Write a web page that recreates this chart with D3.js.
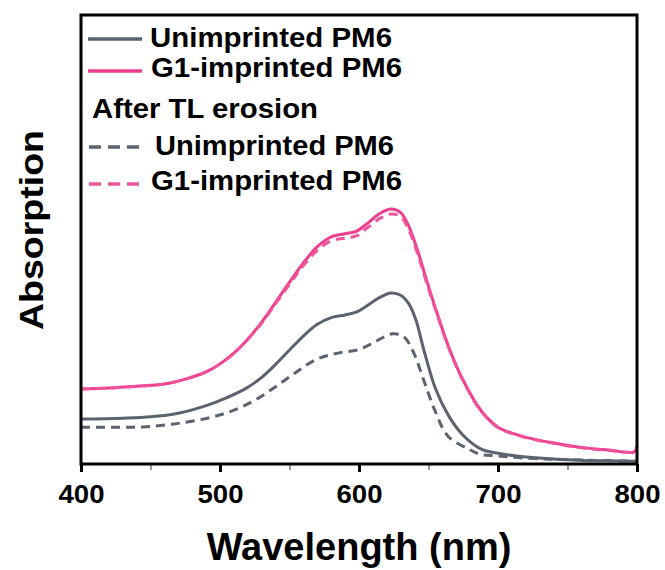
<!DOCTYPE html>
<html>
<head>
<meta charset="utf-8">
<script src="https://cdn.jsdelivr.net/npm/d3@7"></script>
<style>
  body { margin: 0; background: #fff; }
  text { font-family: Arial, "Liberation Sans", sans-serif; font-weight: bold; fill: #000; }
</style>
</head>
<body>
<div id="chart"></div>
<script>
const w = 665;
const h = 570;
const margin = { left: 81, right: 28, top: 15, bottom: 106 };

// wavelength (nm) and normalised absorption
const pinkWl = [400, 420, 440, 460, 475, 490, 500, 510, 520, 530, 540, 550, 560, 570, 580, 590, 598, 606, 615, 623, 630, 636, 642, 648, 655, 664, 674, 688, 700, 712, 725, 740, 760, 780, 798, 800];
const pinkSolid = [0.167, 0.169, 0.173, 0.178, 0.189, 0.205, 0.223, 0.247, 0.278, 0.316, 0.360, 0.405, 0.448, 0.484, 0.506, 0.513, 0.518, 0.536, 0.558, 0.568, 0.560, 0.528, 0.477, 0.416, 0.347, 0.265, 0.192, 0.118, 0.082, 0.067, 0.056, 0.047, 0.037, 0.031, 0.027, 0.042];
const pinkDashed = [0.167, 0.169, 0.173, 0.178, 0.189, 0.205, 0.223, 0.247, 0.278, 0.314, 0.357, 0.400, 0.442, 0.476, 0.497, 0.503, 0.508, 0.526, 0.547, 0.557, 0.551, 0.520, 0.470, 0.410, 0.344, 0.263, 0.191, 0.117, 0.081, 0.066, 0.055, 0.046, 0.036, 0.030, 0.026, 0.028];

const grayWl = [400, 430, 450, 470, 490, 505, 519, 530, 540, 550, 560, 570, 580, 590, 598, 606, 615, 623, 630, 636, 641, 647, 655, 664, 674, 688, 700, 713, 740, 761, 780, 800];
const graySolid = [0.100, 0.102, 0.105, 0.113, 0.130, 0.148, 0.169, 0.193, 0.222, 0.254, 0.285, 0.311, 0.326, 0.332, 0.338, 0.353, 0.371, 0.381, 0.376, 0.356, 0.320, 0.250, 0.168, 0.110, 0.067, 0.033, 0.024, 0.018, 0.011, 0.008, 0.007, 0.006];

const grayDashWl = [400, 425, 447, 471, 495, 510, 525, 540, 555, 570, 585, 600, 612, 624, 632, 639, 647, 655, 664, 679, 688, 700, 720, 760, 800];
const grayDashed = [0.082, 0.082, 0.083, 0.091, 0.105, 0.120, 0.142, 0.172, 0.205, 0.234, 0.247, 0.255, 0.273, 0.290, 0.284, 0.250, 0.183, 0.116, 0.062, 0.033, 0.021, 0.018, 0.013, 0.009, 0.006];

const majorTicks = [400, 500, 600, 700, 800];
const minorTicks = [450, 550, 650, 750];

const gray = "#5b6270";
const pink = "#ee3e8f";
const pinkLight = "#f0559c";

const series = [
  { wl: grayWl, v: graySolid, color: gray, dash: null },
  { wl: pinkWl, v: pinkSolid, color: pink, dash: null },
  { wl: grayDashWl, v: grayDashed, color: gray, dash: "9,6" },
  { wl: pinkWl, v: pinkDashed, color: pinkLight, dash: "9,6" }
];

const svg = d3.select("#chart").append("svg")
  .attr("width", w)
  .attr("height", h);

const x = d3.scaleLinear().domain([400, 800]).range([margin.left, w - margin.right]);
const y = d3.scaleLinear().domain([0, 1]).range([h - margin.bottom, margin.top]);

const line = d3.line()
  .x((d) => x(d[0]))
  .y((d) => y(d[1]))
  .curve(d3.curveCatmullRom.alpha(0.5));

const plot = svg.append("g");
series.forEach((s) => {
  plot.append("path")
    .datum(s.wl.map((d, i) => [d, s.v[i]]))
    .attr("d", line)
    .attr("fill", "none")
    .attr("stroke", s.color)
    .attr("stroke-width", 3)
    .attr("stroke-dasharray", s.dash);
});

// minor ticks first, then the major axis on top
svg.append("g")
  .attr("transform", `translate(0,${y(0)})`)
  .call(d3.axisBottom(x).tickValues(minorTicks).tickSize(6).tickFormat(""))
  .call((g) => g.select(".domain").remove())
  .call((g) => g.selectAll(".tick line").attr("stroke", "#9a9a9a").attr("stroke-width", 2));

const xAxis = svg.append("g")
  .attr("transform", `translate(0,${y(0)})`)
  .call(d3.axisBottom(x).tickValues(majorTicks).tickSize(8).tickPadding(13).tickFormat(d3.format("d")));
xAxis.select(".domain").remove();
xAxis.selectAll(".tick line").attr("stroke", "#000").attr("stroke-width", 3);
xAxis.selectAll(".tick text")
  .style("font-size", "26px")
  .attr("dy", "0.71em")
  .attr("textLength", 46)
  .attr("lengthAdjust", "spacingAndGlyphs");

// frame
svg.append("rect")
  .attr("x", x(400))
  .attr("y", y(1))
  .attr("width", x(800) - x(400))
  .attr("height", y(0) - y(1))
  .attr("fill", "none")
  .attr("stroke", "#000")
  .attr("stroke-width", 3);

svg.append("text")
  .attr("x", (x(400) + x(800)) / 2)
  .attr("y", 560)
  .attr("text-anchor", "middle")
  .style("font-size", "38px")
  .text("Wavelength (nm)");

svg.append("text")
  .attr("transform", "translate(43,230) rotate(-90)")
  .attr("text-anchor", "middle")
  .style("font-size", "34px")
  .attr("textLength", 200)
  .attr("lengthAdjust", "spacingAndGlyphs")
  .text("Absorption");

// legend
const legendRows = [
  { label: "Unimprinted PM6", color: gray, dash: null, ly: 39, x1: 88, x2: 142, tx: 150, ty: 47, tl: 242 },
  { label: "G1-imprinted PM6", color: pink, dash: null, ly: 71, x1: 88, x2: 142, tx: 151, ty: 77, tl: 251 },
  { label: "After TL erosion", color: null, dash: null, ly: 0, x1: 0, x2: 0, tx: 92, ty: 118, tl: 226 },
  { label: "Unimprinted PM6", color: gray, dash: "12,7", ly: 147, x1: 89, x2: 139, tx: 155, ty: 155, tl: 239 },
  { label: "G1-imprinted PM6", color: pinkLight, dash: "12,7", ly: 184, x1: 89, x2: 139, tx: 151, ty: 190, tl: 251 }
];

const legend = svg.append("g");
legendRows.forEach((r) => {
  if (r.color) {
    legend.append("line")
      .attr("x1", r.x1).attr("x2", r.x2)
      .attr("y1", r.ly).attr("y2", r.ly)
      .attr("stroke", r.color)
      .attr("stroke-width", 3.5)
      .attr("stroke-dasharray", r.dash);
  }
  legend.append("text")
    .attr("x", r.tx)
    .attr("y", r.ty)
    .style("font-size", "27px")
    .attr("textLength", r.tl)
    .attr("lengthAdjust", "spacingAndGlyphs")
    .text(r.label);
});
</script>
</body>
</html>
